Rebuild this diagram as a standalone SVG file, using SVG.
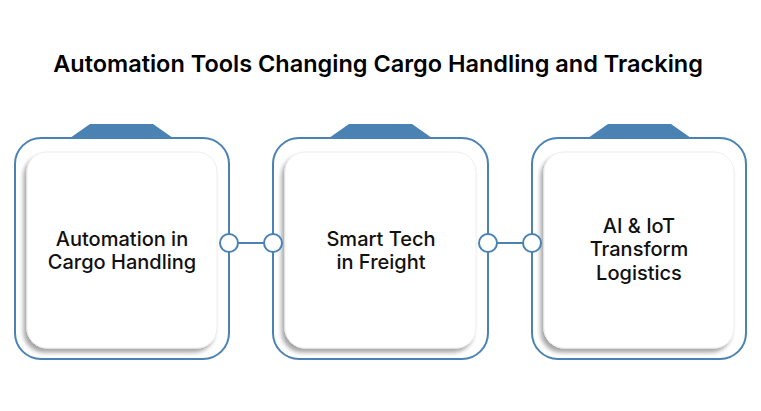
<svg xmlns="http://www.w3.org/2000/svg" width="761" height="411" viewBox="0 0 761 411">
<style>
.outer{fill:#fff;stroke:#4a82b3;stroke-width:2}
.tab{fill:#4a82b3}
.inner{fill:#fff;stroke:#eeeeee;stroke-width:1}
.lbl{font-family:Inter,"Liberation Sans",sans-serif;font-size:20px;font-weight:500;fill:#111;text-anchor:middle}
.title{font-family:Inter,"Liberation Sans",sans-serif;font-size:23.5px;font-weight:600;fill:#000;text-anchor:middle}
.conn{stroke:#4a82b3;stroke-width:2;fill:none}
.dot{fill:#fff;stroke:#4a82b3;stroke-width:2}
</style>
<defs>
<filter id="sh" x="-20%" y="-20%" width="140%" height="140%">
<feDropShadow dx="-3" dy="4" stdDeviation="2" flood-color="#000" flood-opacity="0.35"/>
</filter>
</defs>
<rect width="761" height="411" fill="#fff"/>
<text class="title" x="378" y="72">Automation Tools Changing Cargo Handling and Tracking</text>
<g id="node1">
<path class="tab" d="M70 138 L90 124 L153 124 L173 138 Z"/>
<rect class="outer" x="15" y="138" width="214" height="221" rx="26"/>
<rect class="inner" x="27" y="152" width="190" height="196" rx="20" filter="url(#sh)"/>
<text class="lbl" x="122" y="246">Automation in</text>
<text class="lbl" x="122" y="269">Cargo Handling</text>
</g>
<g id="node2">
<path class="tab" d="M329 138 L349 124 L412 124 L432 138 Z"/>
<rect class="outer" x="273" y="138" width="215" height="221" rx="26"/>
<rect class="inner" x="285" y="152" width="191" height="196" rx="20" filter="url(#sh)"/>
<text class="lbl" x="381" y="246">Smart Tech</text>
<text class="lbl" x="381" y="269">in Freight</text>
</g>
<g id="node3">
<path class="tab" d="M588 138 L608 124 L671 124 L691 138 Z"/>
<rect class="outer" x="532" y="138" width="214" height="221" rx="26"/>
<rect class="inner" x="544" y="152" width="190" height="196" rx="20" filter="url(#sh)"/>
<text class="lbl" x="639" y="233">AI &amp; IoT</text>
<text class="lbl" x="639" y="256">Transform</text>
<text class="lbl" x="639" y="280">Logistics</text>
</g>
<g id="connectors">
<line class="conn" x1="229" y1="243" x2="273" y2="243"/>
<circle class="dot" cx="229" cy="243" r="9"/>
<circle class="dot" cx="273" cy="243" r="9"/>
<line class="conn" x1="488" y1="243" x2="532" y2="243"/>
<circle class="dot" cx="488" cy="243" r="9"/>
<circle class="dot" cx="532" cy="243" r="9"/>
</g>
</svg>
